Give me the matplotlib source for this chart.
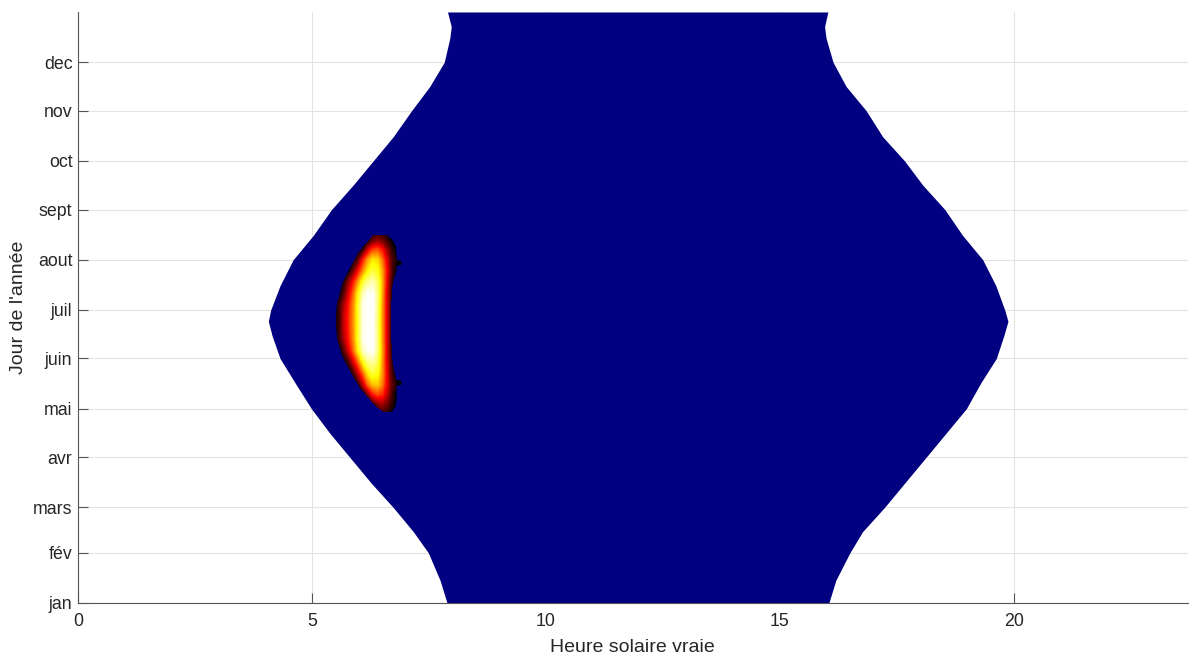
import numpy as np
import matplotlib.pyplot as plt

# lever / coucher du soleil (heure solaire vraie)
jours = [1, 15, 32, 45, 60, 75, 91, 106, 121, 137, 152, 166, 175, 182, 197,
         213, 228, 244, 259, 274, 289, 305, 320, 335, 350, 357, 366]
lever = [7.89, 7.74, 7.49, 7.17, 6.74, 6.27, 5.81, 5.38, 4.99, 4.64, 4.32, 4.15,
         4.07, 4.12, 4.32, 4.60, 5.03, 5.42, 5.88, 6.31, 6.74, 7.13, 7.52, 7.83,
         7.95, 7.98, 7.90]
coucher = [16.05, 16.20, 16.50, 16.77, 17.24, 17.67, 18.13, 18.56, 18.99, 19.30,
           19.63, 19.79, 19.88, 19.81, 19.62, 19.34, 18.91, 18.53, 18.06, 17.67,
           17.20, 16.85, 16.42, 16.14, 15.99, 15.96, 16.03]

mois_jours = [1, 32, 60, 91, 121, 152, 182, 213, 244, 274, 305, 335]
mois_noms = ['jan', 'fév', 'mars', 'avr', 'mai', 'juin', 'juil', 'aout',
             'sept', 'oct', 'nov', 'dec']

# contour de la tache
tache_jours = [119, 122, 126, 130, 134, 135, 136, 138, 139, 145, 150, 155, 165, 176,
               186, 196, 201, 206, 209, 210, 212, 213, 217, 221, 224, 226, 228]
tache_gauche = [6.55, 6.40, 6.27, 6.15, 6.03, 6.01, 5.99, 5.95, 5.93, 5.81, 5.71, 5.63,
                5.54, 5.51, 5.54, 5.63, 5.70, 5.78, 5.84, 5.86, 5.90, 5.92, 5.99,
                6.10, 6.20, 6.26, 6.31]
tache_droite = [6.71, 6.78, 6.81, 6.81, 6.81, 6.81, 6.92, 6.92, 6.80, 6.75, 6.72, 6.70,
                6.69, 6.68, 6.69, 6.71, 6.75, 6.81, 6.81, 6.92, 6.92, 6.81, 6.81,
                6.80, 6.75, 6.70, 6.60]

# intensite de la tache (valeurs relatives)
heures_tache = [5.4, 5.5, 5.6, 5.7, 5.8, 5.9, 6.0, 6.1, 6.2, 6.3, 6.4, 6.5, 6.6, 6.7, 6.8, 6.9]
jours_tache = [116, 124, 130, 136, 143, 150, 157, 164, 171, 178, 185, 192, 199, 206, 213, 219, 224, 231]
tache = [
    [0, 0, 0, 0, 0, 0, 0, 0, 0, 0, 0, 0, 0, 0, 0, 0],
    [0, 0, 0, 0, 0, 0, 0, 0, 0, 0.05, 0.15, 0.22, 0.15, 0.05, 0, 0],
    [0, 0, 0, 0, 0, 0, 0, 0, 0.15, 0.36, 0.46, 0.42, 0.26, 0.08, 0, 0],
    [0, 0, 0, 0, 0, 0, 0.04, 0.25, 0.50, 0.64, 0.66, 0.54, 0.32, 0.12, 0.03, 0],
    [0, 0, 0, 0, 0, 0.08, 0.28, 0.50, 0.70, 0.80, 0.76, 0.58, 0.32, 0.08, 0, 0],
    [0, 0, 0, 0, 0.10, 0.30, 0.52, 0.74, 0.87, 0.90, 0.82, 0.58, 0.30, 0.06, 0, 0],
    [0, 0, 0, 0.12, 0.32, 0.52, 0.74, 0.92, 0.99, 0.99, 0.86, 0.60, 0.30, 0.04, 0, 0],
    [0, 0, 0.08, 0.24, 0.40, 0.57, 0.78, 0.97, 1.00, 1.00, 0.86, 0.58, 0.30, 0.04, 0, 0],
    [0, 0, 0.08, 0.28, 0.42, 0.58, 0.78, 0.97, 1.00, 1.00, 0.85, 0.58, 0.30, 0.04, 0, 0],
    [0, 0, 0.08, 0.28, 0.42, 0.58, 0.78, 0.97, 1.00, 1.00, 0.85, 0.58, 0.30, 0.04, 0, 0],
    [0, 0, 0.08, 0.24, 0.40, 0.57, 0.78, 0.97, 1.00, 1.00, 0.86, 0.58, 0.30, 0.04, 0, 0],
    [0, 0, 0, 0.12, 0.32, 0.52, 0.74, 0.92, 0.99, 0.99, 0.86, 0.60, 0.30, 0.04, 0, 0],
    [0, 0, 0, 0.05, 0.22, 0.40, 0.60, 0.78, 0.88, 0.92, 0.84, 0.62, 0.32, 0.06, 0, 0],
    [0, 0, 0, 0, 0, 0.16, 0.36, 0.56, 0.72, 0.80, 0.76, 0.60, 0.35, 0.10, 0, 0],
    [0, 0, 0, 0, 0, 0, 0.12, 0.38, 0.58, 0.70, 0.68, 0.52, 0.30, 0.10, 0.03, 0],
    [0, 0, 0, 0, 0, 0, 0, 0.05, 0.28, 0.45, 0.48, 0.38, 0.20, 0.06, 0, 0],
    [0, 0, 0, 0, 0, 0, 0, 0, 0.04, 0.15, 0.22, 0.17, 0.08, 0.02, 0, 0],
    [0, 0, 0, 0, 0, 0, 0, 0, 0, 0, 0, 0, 0, 0, 0, 0],
]

plt.rcParams['font.family'] = ['Liberation Sans', 'DejaVu Sans']
gris = '#262626'

fig = plt.figure(figsize=(11.9, 6.58), dpi=100)
ax = fig.add_axes([0.0655, 0.0836, 0.9325, 0.8982])

# zone de jour
ax.fill_betweenx(jours, lever, coucher, color='#000080', linewidth=0, zorder=1)

# tache : contour noir puis degrade "hot" decoupe au contour
contour_x = tache_gauche + tache_droite[::-1]
contour_y = tache_jours + tache_jours[::-1]
bord = ax.fill(contour_x, contour_y, color='black', linewidth=0, zorder=2)[0]

niveaux = np.linspace(0.03, 1.0, 120)
cs = ax.contourf(heures_tache, jours_tache, np.array(tache), levels=niveaux,
                 cmap='hot', vmin=0, vmax=1, extend='max', zorder=3,
                 antialiased=False)
cs.set_edgecolor('face')
cs.set_linewidth(0.4)
cs.set_clip_path(bord)

ax.set_xlim(0, 23.72)
ax.set_ylim(1, 366)
ax.set_xticks([0, 5, 10, 15, 20])
ax.set_yticks(mois_jours)
ax.set_yticklabels(mois_noms)

ax.grid(True, color='#e3e3e3', linewidth=0.8)
ax.set_axisbelow(True)
for s in ['top', 'right']:
    ax.spines[s].set_visible(False)
for s in ['left', 'bottom']:
    ax.spines[s].set_color('#555555')
    ax.spines[s].set_linewidth(0.8)
    ax.spines[s].set_zorder(5)
ax.tick_params(direction='in', length=7, width=0.8, color='#555555',
               labelcolor=gris, labelsize=12.8)
ax.tick_params(axis='x', pad=7)
ax.tick_params(axis='y', pad=4)

ax.set_xlabel('Heure solaire vraie', fontsize=14, color=gris, labelpad=7)
ax.set_ylabel("Jour de l'année", fontsize=14, color=gris, labelpad=4)

fig.savefig('out.png', dpi=100)
